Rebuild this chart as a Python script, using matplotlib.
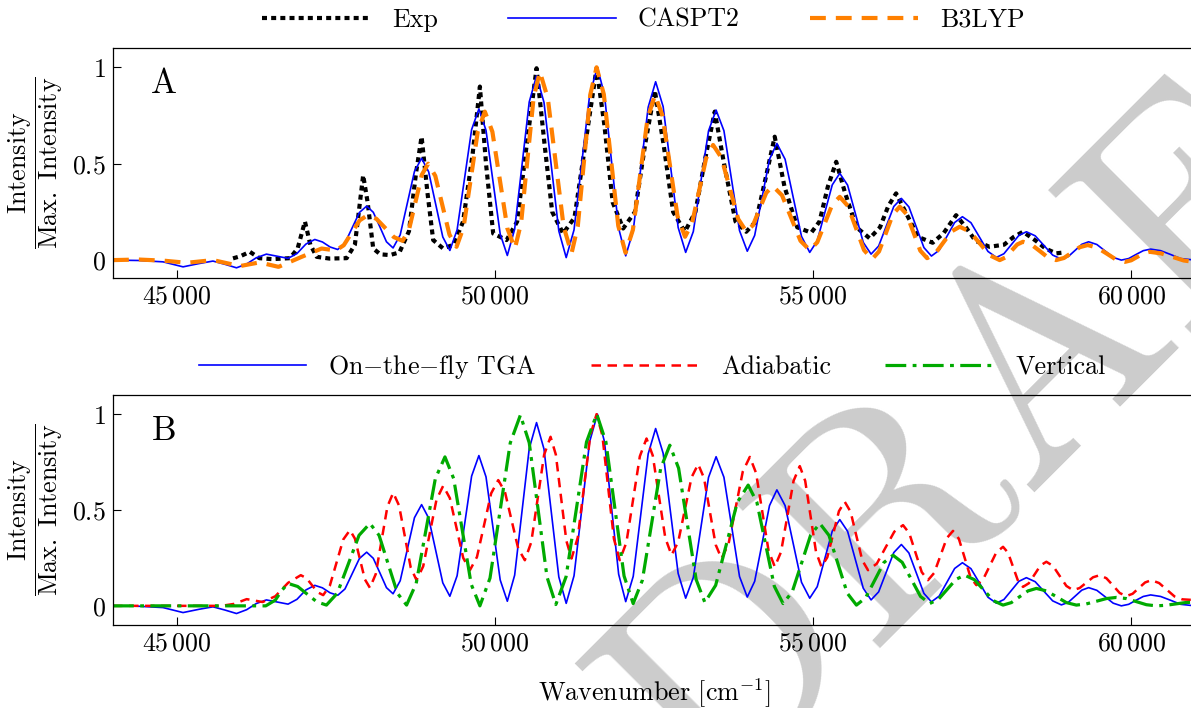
import numpy as np
import matplotlib
matplotlib.use("Agg")
import matplotlib.pyplot as plt
from matplotlib.ticker import FuncFormatter

# Spectra (wavenumber, normalised intensity)
exp_pts = [
    (45885, 0.009), (46000, 0.02), (46150, 0.043), (46300, 0.01), (46500, 0.005),
    (46780, 0.01), (46900, 0.06), (47015, 0.20), (47100, 0.08), (47200, 0.017),
    (47400, 0.008), (47670, 0.01), (47800, 0.08), (47930, 0.44), (48000, 0.30),
    (48088, 0.06), (48200, 0.03), (48350, 0.026), (48500, 0.04), (48650, 0.15),
    (48760, 0.45), (48848, 0.64), (48940, 0.35), (49030, 0.104), (49187, 0.06),
    (49350, 0.08), (49500, 0.2), (49650, 0.55), (49764, 0.90), (49860, 0.5),
    (49973, 0.138), (50183, 0.104), (50350, 0.2), (50500, 0.6), (50654, 0.995),
    (50780, 0.6), (50900, 0.25), (51071, 0.138), (51250, 0.22), (51420, 0.6),
    (51597, 0.995), (51720, 0.7), (51850, 0.3), (52015, 0.164), (52200, 0.25),
    (52360, 0.6), (52512, 0.88), (52650, 0.6), (52800, 0.25), (52983, 0.147),
    (53150, 0.25), (53300, 0.52), (53454, 0.77), (53600, 0.5), (53780, 0.2),
    (53948, 0.147), (54100, 0.2), (54250, 0.42), (54396, 0.64), (54550, 0.38),
    (54750, 0.17), (54970, 0.142), (55100, 0.2), (55230, 0.38), (55362, 0.51),
    (55500, 0.35), (55680, 0.17), (55888, 0.113), (56050, 0.17), (56180, 0.28),
    (56303, 0.346), (56450, 0.25), (56650, 0.12), (56878, 0.09), (57050, 0.14),
    (57246, 0.233), (57400, 0.17), (57550, 0.1), (57770, 0.069), (58000, 0.08),
    (58150, 0.12), (58297, 0.147), (58500, 0.1), (58650, 0.06), (58817, 0.035),
    (58950, 0.04),
]

# CASPT2 spectrum = on-the-fly TGA spectrum (same curve in both panels)
tga_pts = [
    (44000, 0.0), (44400, -0.002), (44785, -0.009), (45100, -0.035), (45350, -0.018),
    (45570, -0.005), (45760, -0.022), (45940, -0.04), (46100, -0.02), (46250, 0.012),
    (46410, 0.031), (46580, 0.02), (46750, 0.009), (46890, 0.034), (47030, 0.083),
    (47170, 0.107), (47290, 0.094), (47410, 0.068), (47530, 0.055),
    (47644, 0.088), (47758, 0.168), (47871, 0.247), (47985, 0.28),
    (48089, 0.248), (48193, 0.172), (48296, 0.095), (48400, 0.063),
    (48512, 0.131), (48624, 0.296), (48736, 0.460), (48848, 0.528),
    (48959, 0.458), (49070, 0.289), (49181, 0.120), (49292, 0.05),
    (49406, 0.157), (49520, 0.417), (49634, 0.677), (49748, 0.784),
    (49860, 0.673), (49972, 0.404), (50083, 0.135), (50195, 0.024),
    (50310, 0.160), (50425, 0.490), (50539, 0.820), (50654, 0.956),
    (50771, 0.818), (50887, 0.485), (51004, 0.151), (51120, 0.013),
    (51243, 0.157), (51365, 0.507), (51488, 0.856), (51610, 1.0),
    (51721, 0.857), (51833, 0.511), (51944, 0.165), (52055, 0.022),
    (52173, 0.154), (52290, 0.474), (52408, 0.793), (52525, 0.925),
    (52643, 0.796), (52761, 0.483), (52879, 0.169), (52997, 0.04),
    (53117, 0.148), (53236, 0.409), (53356, 0.670), (53475, 0.778),
    (53598, 0.671), (53720, 0.412), (53843, 0.153), (53965, 0.046),
    (54081, 0.128), (54198, 0.326), (54314, 0.523), (54430, 0.605),
    (54559, 0.523), (54688, 0.323), (54817, 0.123), (54946, 0.04),
    (55064, 0.100), (55182, 0.245), (55300, 0.390), (55418, 0.45),
    (55541, 0.389), (55664, 0.241), (55787, 0.092), (55910, 0.031),
    (56029, 0.073), (56148, 0.176), (56267, 0.278), (56386, 0.32),
    (56504, 0.276), (56622, 0.171), (56740, 0.065), (56858, 0.021),
    (56980, 0.051), (57102, 0.123), (57223, 0.195), (57345, 0.225),
    (57479, 0.194), (57612, 0.120), (57746, 0.045), (57879, 0.014),
    (57997, 0.033), (58115, 0.081), (58232, 0.128), (58350, 0.147),
    (58488, 0.126), (58625, 0.076), (58763, 0.026), (58900, 0.005),
    (59007, 0.018), (59114, 0.050), (59221, 0.082), (59328, 0.095),
    (59457, 0.081), (59585, 0.048), (59714, 0.014), (59842, 0.0),
    (59957, 0.008), (60072, 0.029), (60187, 0.049), (60302, 0.057),
    (60459, 0.049), (60617, 0.029), (60774, 0.008), (61000, 0.0),
]

b3lyp_pts = [
    (44000, 0.0), (44400, 0.003), (44800, -0.003), (45157, -0.014), (45570, 0.0),
    (45994, -0.031), (46300, -0.012), (46600, -0.035), (46950, 0.015), (47277, 0.06),
    (47500, 0.05),
    (47625, 0.077), (47750, 0.142), (47875, 0.206), (48000, 0.233),
    (48138, 0.214), (48275, 0.167), (48413, 0.119), (48550, 0.10),
    (48650, 0.158), (48751, 0.300), (48851, 0.442), (48951, 0.50),
    (49063, 0.437), (49174, 0.285), (49286, 0.132), (49397, 0.069),
    (49508, 0.171), (49620, 0.420), (49731, 0.668), (49842, 0.77),
    (49960, 0.666), (50078, 0.415), (50196, 0.164), (50314, 0.06),
    (50412, 0.194), (50510, 0.519), (50608, 0.843), (50706, 0.977),
    (50831, 0.839), (50955, 0.506), (51080, 0.173), (51204, 0.035),
    (51302, 0.176), (51401, 0.518), (51499, 0.859), (51597, 1.0),
    (51711, 0.860), (51825, 0.519), (51938, 0.178), (52052, 0.038),
    (52168, 0.157), (52284, 0.447), (52399, 0.737), (52515, 0.856),
    (52633, 0.749), (52751, 0.489), (52869, 0.228), (52987, 0.121),
    (53097, 0.191), (53208, 0.359), (53318, 0.528), (53428, 0.597),
    (53559, 0.531), (53691, 0.372), (53822, 0.213), (53953, 0.147),
    (54056, 0.182), (54160, 0.266), (54263, 0.349), (54366, 0.384),
    (54511, 0.336), (54656, 0.218), (54801, 0.100), (54946, 0.052),
    (55064, 0.092), (55182, 0.190), (55300, 0.288), (55418, 0.328),
    (55545, 0.281), (55672, 0.167), (55799, 0.052), (55926, 0.005),
    (56035, 0.045), (56144, 0.141), (56252, 0.237), (56361, 0.277),
    (56468, 0.238), (56576, 0.144), (56683, 0.049), (56790, 0.01),
    (56918, 0.034), (57047, 0.092), (57175, 0.149), (57303, 0.173),
    (57460, 0.148), (57617, 0.087), (57774, 0.025), (57931, 0.0),
    (58023, 0.014), (58114, 0.048), (58206, 0.081), (58297, 0.095),
    (58427, 0.081), (58557, 0.048), (58687, 0.014), (58817, 0.0),
    (58941, 0.011), (59065, 0.039), (59189, 0.067), (59313, 0.078),
    (59460, 0.065), (59607, 0.035), (59753, 0.004), (59900, -0.009),
    (59997, -0.001), (60093, 0.017), (60190, 0.035), (60286, 0.043),
    (60465, 0.035), (60643, 0.017), (60822, -0.002), (61000, -0.01),
]

adiabatic_pts = [
    (44000, 0.0), (45700, 0.0), (45900, 0.01), (46100, 0.035), (46350, 0.02),
    (46550, 0.05), (46750, 0.12), (46950, 0.16),
    (47038, 0.145), (47126, 0.108), (47214, 0.071), (47302, 0.056),
    (47407, 0.106), (47512, 0.226), (47617, 0.346), (47722, 0.395),
    (47800, 0.351), (47879, 0.245), (47957, 0.138), (48036, 0.094),
    (48128, 0.166), (48219, 0.342), (48311, 0.518), (48402, 0.59),
    (48494, 0.523), (48585, 0.362), (48677, 0.200), (48768, 0.134),
    (48873, 0.206), (48978, 0.380), (49082, 0.554), (49187, 0.626),
    (49292, 0.562), (49397, 0.406), (49502, 0.250), (49607, 0.186),
    (49718, 0.255), (49830, 0.421), (49941, 0.587), (50052, 0.656),
    (50157, 0.595), (50261, 0.447), (50366, 0.299), (50470, 0.238),
    (50571, 0.332), (50672, 0.560), (50773, 0.788), (50874, 0.882),
    (50957, 0.789), (51039, 0.565), (51122, 0.340), (51204, 0.247),
    (51302, 0.357), (51401, 0.624), (51499, 0.890), (51597, 1.0),
    (51688, 0.889), (51779, 0.619), (51870, 0.349), (51961, 0.238),
    (52066, 0.331), (52172, 0.556), (52277, 0.780), (52382, 0.873),
    (52480, 0.784), (52579, 0.569), (52677, 0.354), (52775, 0.265),
    (52880, 0.334), (52984, 0.502), (53089, 0.670), (53193, 0.739),
    (53285, 0.667), (53377, 0.493), (53468, 0.319), (53560, 0.247),
    (53671, 0.324), (53783, 0.512), (53894, 0.700), (54005, 0.777),
    (54103, 0.693), (54201, 0.491), (54299, 0.288), (54397, 0.204),
    (54495, 0.281), (54594, 0.467), (54692, 0.652), (54790, 0.729),
    (54875, 0.652), (54960, 0.467), (55045, 0.281), (55130, 0.204),
    (55222, 0.253), (55313, 0.374), (55405, 0.494), (55496, 0.543),
    (55588, 0.491), (55679, 0.365), (55771, 0.238), (55862, 0.186),
    (56000, 0.220), (56137, 0.304), (56275, 0.387), (56412, 0.421),
    (56510, 0.379), (56608, 0.278), (56706, 0.176), (56804, 0.134),
    (56902, 0.172), (57001, 0.263), (57099, 0.353), (57197, 0.391),
    (57289, 0.350), (57381, 0.250), (57472, 0.149), (57564, 0.108),
    (57669, 0.137), (57774, 0.208), (57878, 0.279), (57983, 0.308),
    (58062, 0.277), (58140, 0.204), (58219, 0.130), (58297, 0.099),
    (58389, 0.118), (58481, 0.165), (58572, 0.211), (58664, 0.23),
    (58769, 0.208), (58873, 0.156), (58978, 0.104), (59082, 0.082),
    (59187, 0.093), (59292, 0.121), (59397, 0.149), (59502, 0.16),
    (59607, 0.144), (59712, 0.106), (59816, 0.067), (59921, 0.051),
    (60019, 0.063), (60117, 0.093), (60215, 0.122), (60313, 0.134),
    (60435, 0.119), (60557, 0.084), (60678, 0.049), (60800, 0.034),
    (61000, 0.03),
]

vertical_pts = [
    (44000, 0.0), (46400, 0.0), (46550, 0.03), (46650, 0.08), (46750, 0.117),
    (46901, 0.101), (47051, 0.061), (47202, 0.021), (47353, 0.004),
    (47524, 0.066), (47695, 0.217), (47865, 0.368), (48036, 0.43),
    (48180, 0.368), (48324, 0.217), (48468, 0.066), (48612, 0.004),
    (48763, 0.117), (48914, 0.391), (49064, 0.664), (49215, 0.777),
    (49352, 0.664), (49490, 0.389), (49627, 0.113), (49764, 0.0),
    (49923, 0.145), (50082, 0.498), (50241, 0.850), (50400, 0.995),
    (50539, 0.851), (50679, 0.501), (50818, 0.151), (50957, 0.007),
    (51118, 0.152), (51279, 0.504), (51439, 0.855), (51600, 1.0),
    (51743, 0.856), (51886, 0.506), (52029, 0.156), (52172, 0.012),
    (52316, 0.133), (52460, 0.425), (52604, 0.717), (52748, 0.838),
    (52886, 0.718), (53023, 0.428), (53161, 0.138), (53298, 0.018),
    (53468, 0.107), (53639, 0.324), (53809, 0.541), (53979, 0.63),
    (54116, 0.540), (54253, 0.321), (54390, 0.102), (54527, 0.012),
    (54671, 0.073), (54816, 0.221), (54960, 0.369), (55104, 0.43),
    (55248, 0.368), (55392, 0.217), (55536, 0.066), (55680, 0.004),
    (55824, 0.042), (55968, 0.134), (56111, 0.226), (56255, 0.264),
    (56399, 0.227), (56543, 0.138), (56687, 0.049), (56831, 0.012),
    (56968, 0.034), (57106, 0.086), (57243, 0.138), (57380, 0.16),
    (57531, 0.137), (57682, 0.082), (57832, 0.027), (57983, 0.004),
    (58114, 0.017), (58245, 0.048), (58376, 0.078), (58507, 0.091),
    (58664, 0.078), (58821, 0.048), (58978, 0.017), (59135, 0.004),
    (59292, 0.010), (59450, 0.024), (59607, 0.038), (59764, 0.044),
    (59921, 0.038), (60078, 0.022), (60235, 0.006), (60392, 0.0),
    (60544, 0.003), (60696, 0.010), (60848, 0.017), (61000, 0.02),
]

x_ticks = [45000, 50000, 55000, 60000]
y_ticks = [0, 0.5, 1]

plt.rcParams["font.family"] = "cmr10"
plt.rcParams["mathtext.fontset"] = "cm"
plt.rcParams["axes.unicode_minus"] = False
plt.rcParams["axes.formatter.use_mathtext"] = True

FS = 18.7

fig = plt.figure(figsize=(11.91, 7.08), dpi=100, facecolor="white")

# DRAFT watermark behind everything
fig.text(0.8724, 0.4732, "DRAFT", rotation=45, rotation_mode="anchor",
         ha="center", va="center", fontsize=215, color="#cccccc",
         family="cmr10", zorder=-5)

ax_a = fig.add_axes([0.0949, 0.6073, 0.9085, 0.3249])
ax_b = fig.add_axes([0.0949, 0.1172, 0.9085, 0.3249])


def unpack(pts):
    arr = np.array(pts, dtype=float)
    return arr[:, 0], arr[:, 1]


ex, ey = unpack(exp_pts)
tx, ty = unpack(tga_pts)
bx, by = unpack(b3lyp_pts)
rx, ry = unpack(adiabatic_pts)
gx, gy = unpack(vertical_pts)

# Panel A
ax_a.plot(ex, ey, color="black", lw=3.0, ls=(0, (1.2, 1.0)), label="Exp")
ax_a.plot(tx, ty, color="#0000ff", lw=1.2, label="CASPT2")
ax_a.plot(bx, by, color="#ff8000", lw=3.0, ls=(0, (3.8, 2.4)), label="B3LYP")

# Panel B
ax_b.plot(tx, ty, color="#0000ff", lw=1.2, label="On$-$the$-$fly TGA")
ax_b.plot(rx, ry, color="#ff0000", lw=1.8, ls=(0, (3.8, 2.6)), label="Adiabatic")
ax_b.plot(gx, gy, color="#00aa00", lw=2.3, ls=(0, (6.5, 2.0, 1.2, 2.0)), label="Vertical")


def xfmt(v, pos):
    v = int(round(v))
    return r"$%d\,%03d$" % (v // 1000, v % 1000)


def yfmt(v, pos):
    return r"$%g$" % v


for ax, letter, ylo in [(ax_a, "A", -0.093), (ax_b, "B", -0.10)]:
    ax.set_facecolor("none")
    ax.set_xlim(44000, 61000)
    ax.set_ylim(ylo, 1.10)
    ax.set_xticks(x_ticks)
    ax.set_yticks(y_ticks)
    ax.xaxis.set_major_formatter(FuncFormatter(xfmt))
    ax.yaxis.set_major_formatter(FuncFormatter(yfmt))
    ax.tick_params(direction="in", length=6, width=0.8, labelsize=FS, pad=5,
                   top=False, right=False)
    for s in ax.spines.values():
        s.set_linewidth(0.9)
    ax.set_ylabel(r"$\dfrac{\mathrm{Intensity}}{\mathrm{Max.\ Intensity}}$",
                  fontsize=FS, va="center")
    ax.yaxis.set_label_coords(-0.0716, 0.5)
    ax.text(0.047, 0.843, letter, transform=ax.transAxes, ha="center",
            va="center", fontsize=25)

ax_b.set_xlabel(r"Wavenumber [cm$^{-1}$]", fontsize=FS)
ax_b.xaxis.set_label_coords(0.5, -0.225)

ax_a.legend(loc="center", bbox_to_anchor=(0.54, 0.9718), bbox_transform=fig.transFigure,
            ncol=3, frameon=False, fontsize=FS, handlelength=4.15,
            handletextpad=0.85, columnspacing=2.7, borderpad=0, borderaxespad=0)
ax_b.legend(loc="center", bbox_to_anchor=(0.5475, 0.4816), bbox_transform=fig.transFigure,
            ncol=3, frameon=False, fontsize=FS, handlelength=4.15,
            handletextpad=0.85, columnspacing=2.1, borderpad=0, borderaxespad=0)

fig.savefig("out.png", dpi=100, facecolor="white")
